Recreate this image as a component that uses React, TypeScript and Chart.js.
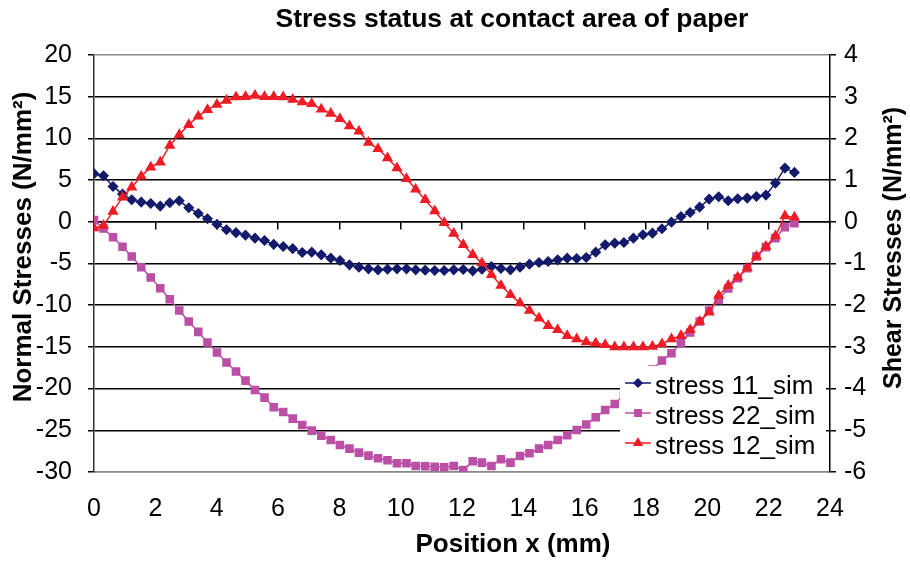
import React, { useEffect, useRef } from 'react';
import { Chart, registerables } from 'chart.js';
import { drawPoint } from 'chart.js/helpers';

Chart.register(...registerables);

const TITLE = 'Stress status at contact area of paper';
const X_TITLE = 'Position x (mm)';
const Y_LEFT_TITLE = 'Normal Stresses (N/mm²)';
const Y_RIGHT_TITLE = 'Shear Stresses (N/mm²)';
const SERIES_NAMES = ['stress 11_sim', 'stress 22_sim', 'stress 12_sim'];

const positionX = [
  0, 0.31, 0.62, 0.93, 1.23, 1.54, 1.85, 2.16, 2.47, 2.78,
  3.09, 3.4, 3.7, 4.01, 4.32, 4.63, 4.94, 5.25, 5.56, 5.86,
  6.17, 6.48, 6.79, 7.1, 7.41, 7.72, 8.02, 8.33, 8.64, 8.95,
  9.26, 9.57, 9.88, 10.19, 10.49, 10.8, 11.11, 11.42, 11.73, 12.04,
  12.35, 12.65, 12.96, 13.27, 13.58, 13.89, 14.2, 14.51, 14.81, 15.12,
  15.43, 15.74, 16.05, 16.36, 16.67, 16.98, 17.28, 17.59, 17.9, 18.21,
  18.52, 18.83, 19.14, 19.44, 19.75, 20.06, 20.37, 20.68, 20.99, 21.3,
  21.6, 21.91, 22.22, 22.53, 22.84,
];

const stress11 = [
  5.76, 5.52, 4.24, 3.32, 2.64, 2.36, 2.2, 1.88, 2.28, 2.52,
  1.68, 1.0, 0.36, -0.3, -0.96, -1.3, -1.6, -1.96, -2.24, -2.7,
  -2.96, -3.22, -3.68, -3.64, -3.96, -4.36, -4.64, -5.16, -5.44, -5.64,
  -5.76, -5.68, -5.64, -5.64, -5.76, -5.8, -5.84, -5.84, -5.76, -5.72,
  -5.88, -5.68, -5.36, -5.6, -5.76, -5.44, -5.08, -4.88, -4.76, -4.56,
  -4.36, -4.4, -4.28, -3.64, -2.76, -2.56, -2.48, -1.96, -1.56, -1.36,
  -0.84, -0.04, 0.64, 1.12, 1.76, 2.72, 3.0, 2.52, 2.76, 2.84,
  3.04, 3.2, 4.64, 6.44, 5.92,
];

const stress22 = [
  0.2, -0.8, -1.86, -3.0, -4.16, -5.44, -6.68, -7.96, -9.28, -10.64,
  -11.96, -13.2, -14.48, -15.68, -16.88, -17.96, -19.04, -20.16, -21.08, -22.24,
  -22.8, -23.6, -24.36, -25.04, -25.64, -26.16, -26.76, -27.2, -27.68, -28.04,
  -28.36, -28.6, -28.96, -28.96, -29.28, -29.32, -29.36, -29.44, -29.28, -29.76,
  -28.72, -28.88, -29.28, -28.48, -28.88, -28.08, -27.76, -27.2, -26.76, -26.16,
  -25.6, -24.96, -24.3, -23.44, -22.56, -21.84, -20.8, -19.8, -18.8, -17.7,
  -16.64, -15.76, -14.56, -13.28, -11.96, -10.64, -9.36, -8.0, -6.76, -5.56,
  -4.16, -3.04, -1.96, -0.64, -0.16,
];

const stress12 = [
  -0.15, -0.09, 0.25, 0.59, 0.83, 1.09, 1.31, 1.43, 1.83, 2.09,
  2.33, 2.53, 2.69, 2.81, 2.91, 2.99, 3.0, 3.03, 3.0, 3.0,
  2.99, 2.93, 2.87, 2.83, 2.7, 2.6, 2.47, 2.3, 2.17, 1.9,
  1.75, 1.53, 1.29, 1.03, 0.78, 0.53, 0.26, -0.02, -0.28, -0.55,
  -0.79, -0.99, -1.27, -1.53, -1.75, -1.95, -2.13, -2.31, -2.49, -2.59,
  -2.73, -2.81, -2.88, -2.91, -2.95, -3.0, -3.0, -3.0, -3.0, -2.99,
  -2.93, -2.81, -2.73, -2.59, -2.39, -2.17, -1.77, -1.53, -1.33, -1.11,
  -0.83, -0.59, -0.34, 0.14, 0.11,
];

const xTicks = [0, 2, 4, 6, 8, 10, 12, 14, 16, 18, 20, 22, 24];
const leftTicks = [20, 15, 10, 5, 0, -5, -10, -15, -20, -25, -30];
const rightTicks = [4, 3, 2, 1, 0, -1, -2, -3, -4, -5, -6];

const FONT = "'Liberation Sans', Arial, Helvetica, sans-serif";
const NAVY = '#141a6c';
const MAGENTA = '#bb4fa6';
const RED = '#ee1c25';

const pts = (ys: number[]) => positionX.map((x, i) => ({ x, y: ys[i] }));

const annotations = {
  id: 'annotations',
  afterDraw(chart: any) {
    const ctx = chart.ctx as CanvasRenderingContext2D;
    ctx.save();
    ctx.fillStyle = '#000';
    ctx.textAlign = 'center';
    ctx.textBaseline = 'middle';
    ctx.font = `bold 26.5px ${FONT}`;
    ctx.fillText(TITLE, 512, 20);
    ctx.font = `bold 26px ${FONT}`;
    ctx.fillText(X_TITLE, 513, 545);
    ctx.save();
    ctx.translate(24, 247);
    ctx.rotate(-Math.PI / 2);
    ctx.fillText(Y_LEFT_TITLE, 0, 0);
    ctx.restore();
    ctx.save();
    ctx.translate(894, 248);
    ctx.rotate(-Math.PI / 2);
    ctx.font = `bold 25px ${FONT}`;
    ctx.fillText(Y_RIGHT_TITLE, 0, 0);
    ctx.restore();

    // legend
    ctx.fillStyle = '#fff';
    ctx.fillRect(620, 366, 206, 102);
    const items = chart.data.datasets;
    ctx.font = `26px ${FONT}`;
    ctx.textAlign = 'left';
    items.forEach((ds: any, i: number) => {
      const y = 383 + i * 30;
      ctx.strokeStyle = ds.borderColor;
      ctx.lineWidth = 1.5;
      ctx.beginPath();
      ctx.moveTo(625, y);
      ctx.lineTo(651, y);
      ctx.stroke();
      ctx.fillStyle = ds.backgroundColor;
      drawPoint(ctx, { pointStyle: ds.pointStyle, radius: ds.pointRadius - 0.5, borderWidth: 1, rotation: 0 } as any, 638, y);
      ctx.fillStyle = '#000';
      ctx.fillText(ds.label, 655, y + 4);
    });
    ctx.restore();
  },
};

export default function App() {
  const ref = useRef<HTMLCanvasElement | null>(null);
  useEffect(() => {
    document.body.style.margin = '0';
    const canvas = ref.current;
    if (!canvas) return;
    const tickFont = { family: FONT, size: 25 };
    const chart = new Chart(canvas, {
      type: 'line',
      data: {
        datasets: [
          {
            label: SERIES_NAMES[0],
            data: pts(stress11),
            yAxisID: 'y',
            xAxisID: 'x',
            borderColor: NAVY,
            backgroundColor: NAVY,
            pointBorderColor: NAVY,
            pointBackgroundColor: NAVY,
            pointStyle: 'rectRot',
            pointRadius: 4.5,
            borderWidth: 1.5,
            tension: 0,
            order: 3,
          },
          {
            label: SERIES_NAMES[1],
            data: pts(stress22),
            yAxisID: 'y',
            xAxisID: 'x',
            borderColor: MAGENTA,
            backgroundColor: MAGENTA,
            pointBorderColor: MAGENTA,
            pointBackgroundColor: MAGENTA,
            pointStyle: 'rect',
            pointRadius: 5,
            borderWidth: 1.5,
            tension: 0,
            order: 2,
          },
          {
            label: SERIES_NAMES[2],
            data: pts(stress12),
            yAxisID: 'y2',
            xAxisID: 'x',
            borderColor: RED,
            backgroundColor: RED,
            pointBorderColor: RED,
            pointBackgroundColor: RED,
            pointStyle: 'triangle',
            pointRadius: 5,
            borderWidth: 1.5,
            tension: 0,
            order: 1,
          },
        ],
      },
      options: {
        responsive: false,
        animation: false,
        events: [],
        layout: { padding: { top: 55, left: 0, right: 0, bottom: 0 } },
        plugins: {
          legend: { display: false },
          title: { display: false },
          tooltip: { enabled: false },
        },
        scales: {
          x: {
            type: 'linear',
            axis: 'x',
            position: 'bottom',
            min: 0,
            max: 24,
            afterBuildTicks: (s: any) => { s.ticks = xTicks.map((v) => ({ value: v })); },
            afterFit: (s: any) => { s.height = 90; },
            ticks: { font: tickFont, color: '#000', padding: 22, maxRotation: 0, autoSkip: false },
            grid: { display: false, drawTicks: false },
            border: { display: true, color: '#8a8a8a', width: 1.5 },
          },
          xZero: {
            type: 'linear',
            axis: 'x',
            position: { y: 0 },
            min: 0,
            max: 24,
            afterBuildTicks: (s: any) => { s.ticks = xTicks.map((v) => ({ value: v })); },
            ticks: { display: false },
            grid: { display: true, drawOnChartArea: false, drawTicks: true, tickLength: 7, color: '#000', lineWidth: 1.5 },
            border: { display: true, color: '#000', width: 1.5 },
          },
          y: {
            type: 'linear',
            position: 'left',
            min: -30,
            max: 20,
            afterBuildTicks: (s: any) => { s.ticks = leftTicks.map((v) => ({ value: v })); },
            afterFit: (s: any) => { s.width = 94; },
            ticks: { font: tickFont, color: '#000', padding: 16 },
            grid: {
              color: (c: any) => (c.tick && (c.tick.value === 20 || c.tick.value === -30) ? '#8a8a8a' : '#000'),
              tickColor: '#000',
              lineWidth: 1.5,
              tickLength: 6,
              drawTicks: true,
            },
            border: { display: true, color: '#333', width: 1.5 },
          },
          y2: {
            type: 'linear',
            position: 'right',
            min: -6,
            max: 4,
            afterBuildTicks: (s: any) => { s.ticks = rightTicks.map((v) => ({ value: v })); },
            afterFit: (s: any) => { s.width = 80; },
            ticks: { font: tickFont, color: '#000', padding: 8 },
            grid: { drawOnChartArea: false, drawTicks: true, tickLength: 6, color: '#000', lineWidth: 1.5 },
            border: { display: true, color: '#000', width: 1.5 },
          },
        },
      } as any,
      plugins: [annotations],
    });
    return () => chart.destroy();
  }, []);
  return (
    <div style={{ width: 910, height: 562 }}>
      <canvas ref={ref} width={910} height={562} style={{ display: 'block', width: 910, height: 562 }} />
    </div>
  );
}
